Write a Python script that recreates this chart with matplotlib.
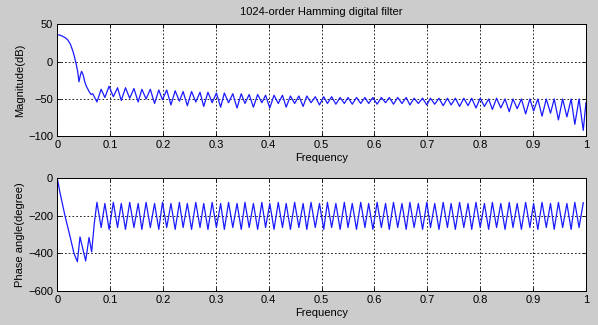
import numpy as np
import matplotlib
matplotlib.use("Agg")
import matplotlib.pyplot as plt

# main lobe of the magnitude response
mag_main_f = [0, 0.005, 0.01, 0.015, 0.02, 0.025, 0.03, 0.033, 0.036, 0.0385,
              0.041, 0.044, 0.046, 0.049, 0.052, 0.055, 0.058, 0.061, 0.064, 0.067, 0.070]
mag_main_db = [36, 35.5, 34, 32, 29, 23, 13, 5, -4, -13,
               -27, -17, -13, -18, -27, -33, -37, -41, -44, -43, -47]

# ripple region: cusp (dip) and lobe-top (peak) frequencies
dip_f = [0.075, 0.090, 0.106, 0.121, 0.137, 0.153, 0.168, 0.184, 0.199, 0.215,
         0.231, 0.246, 0.262, 0.277, 0.293, 0.309, 0.324, 0.340, 0.355, 0.371,
         0.387, 0.402, 0.418, 0.433, 0.449, 0.465, 0.480, 0.496, 0.511, 0.527,
         0.543, 0.558, 0.574, 0.589, 0.605, 0.621, 0.636, 0.652, 0.667, 0.683,
         0.699, 0.714, 0.730, 0.745, 0.761, 0.777, 0.792, 0.808, 0.823, 0.839,
         0.855, 0.870, 0.886, 0.901, 0.917, 0.933, 0.948, 0.964, 0.979, 0.995]
peak_f = [0.083, 0.098, 0.114, 0.129, 0.145, 0.160, 0.176, 0.192, 0.207, 0.223,
          0.238, 0.254, 0.270, 0.285, 0.301, 0.316, 0.332, 0.348, 0.363, 0.379,
          0.394, 0.410, 0.426, 0.441, 0.457, 0.472, 0.488, 0.504, 0.519, 0.535,
          0.550, 0.566, 0.582, 0.597, 0.613, 0.628, 0.644, 0.660, 0.675, 0.691,
          0.706, 0.722, 0.738, 0.753, 0.769, 0.784, 0.800, 0.816, 0.831, 0.847,
          0.862, 0.878, 0.894, 0.909, 0.925, 0.940, 0.956, 0.972, 0.987]

dip_db = [-54, -48, -47, -52, -49, -54, -50, -56, -51, -58,
          -53, -59, -54, -60, -55, -61, -55, -62, -56, -61,
          -55, -62, -56, -61, -56, -60, -55, -58, -56, -57,
          -56, -57, -56, -56, -57, -55, -57, -56, -58, -56,
          -58, -57, -59, -58, -60, -59, -62, -60, -64, -62,
          -67, -63, -70, -66, -73, -69, -78, -74, -84, -92]
peak_db = [-37, -33, -35, -35, -36, -37, -37, -38, -38, -39,
           -40, -40, -41, -41, -42, -42, -43, -43, -44, -44,
           -45, -45, -45, -46, -46, -46, -47, -47, -47, -48,
           -48, -48, -48, -48, -48, -48, -48, -48, -49, -49,
           -49, -49, -49, -49, -49, -49, -49, -50, -49, -50,
           -50, -50, -50, -50, -50, -50, -50, -50, -50]
mag_end = (1.0, -55)

# phase response
ph_main_f = [0, 0.005, 0.0146, 0.025, 0.0316, 0.038, 0.043, 0.0537, 0.060, 0.065, 0.070]
ph_main_deg = [0, -75, -200, -320, -400, -444, -312, -440, -315, -392, -240]
ph_top = [-128, -134, -128, -134, -128, -134, -128, -134, -128, -134,
          -128, -134, -128, -134, -128, -134, -128, -134, -128, -134,
          -128, -134, -128, -134, -128, -134, -128, -134, -128, -134,
          -128, -134, -128, -134, -128, -134, -128, -134, -128, -134,
          -128, -134, -128, -134, -128, -134, -128, -134, -128, -134,
          -128, -134, -128, -134, -128, -134, -128, -134, -128, -130]
ph_bottom = [-262, -272, -262, -272, -262, -272, -262, -272, -262, -272,
             -262, -272, -262, -272, -262, -272, -262, -272, -262, -272,
             -262, -272, -262, -272, -262, -272, -262, -272, -262, -272,
             -262, -272, -262, -272, -262, -272, -262, -272, -262, -272,
             -262, -272, -262, -272, -262, -272, -262, -272, -262, -272,
             -262, -272, -262, -272, -262, -272, -262, -272, -262]

xticks = [0, 0.1, 0.2, 0.3, 0.4, 0.5, 0.6, 0.7, 0.8, 0.9, 1]
xticklabels = ["0", "0.1", "0.2", "0.3", "0.4", "0.5", "0.6", "0.7", "0.8", "0.9", "1"]


def merge(f1, v1, f2, v2):
    f = np.concatenate([f1, f2])
    v = np.concatenate([v1, v2])
    order = np.argsort(f)
    return f[order], v[order]


rip_f, rip_db = merge(dip_f, dip_db, peak_f, peak_db)
mag_f = np.concatenate([mag_main_f, rip_f, [mag_end[0]]])
mag_db = np.concatenate([mag_main_db, rip_db, [mag_end[1]]])

saw_f, saw_deg = merge(dip_f, ph_top, peak_f, ph_bottom)
ph_f = np.concatenate([ph_main_f, saw_f])
ph_deg = np.concatenate([ph_main_deg, saw_deg])

plt.rcParams['font.family'] = ['Liberation Sans', 'DejaVu Sans']
plt.rcParams['font.size'] = 8

fig = plt.figure(figsize=(5.98, 3.25), dpi=100, facecolor='#cccccc')
ax1 = fig.add_axes([0.0958, 0.5806, 0.884, 0.3446])
ax2 = fig.add_axes([0.0958, 0.1046, 0.884, 0.3468])


def style(ax):
    ax.set_facecolor('white')
    ax.set_xlim(0, 1)
    ax.set_xticks(xticks)
    ax.set_xticklabels(xticklabels)
    ax.grid(True, color='black', linestyle=(0, (2, 2.5)), linewidth=0.6)
    ax.tick_params(direction='in', length=3, width=0.6, top=True, right=True,
                   labelsize=8, pad=3)
    for s in ax.spines.values():
        s.set_linewidth(0.7)
    ax.set_xlabel('Frequency', labelpad=2)


ax1.plot(mag_f, mag_db, color='#1a1aff', linewidth=0.9)
style(ax1)
ax1.set_ylim(-100, 50)
ax1.set_yticks([-100, -50, 0, 50])
ax1.set_ylabel('Magnitude(dB)', labelpad=2)
ax1.set_title('1024-order Hamming digital filter', fontsize=8, pad=7)

ax2.plot(ph_f, ph_deg, color='#1a1aff', linewidth=0.9)
style(ax2)
ax2.set_ylim(-600, 0)
ax2.set_yticks([-600, -400, -200, 0])
ax2.set_ylabel('Phase angle(degree)', labelpad=2)

fig.savefig('out.png', dpi=100, facecolor=fig.get_facecolor())
